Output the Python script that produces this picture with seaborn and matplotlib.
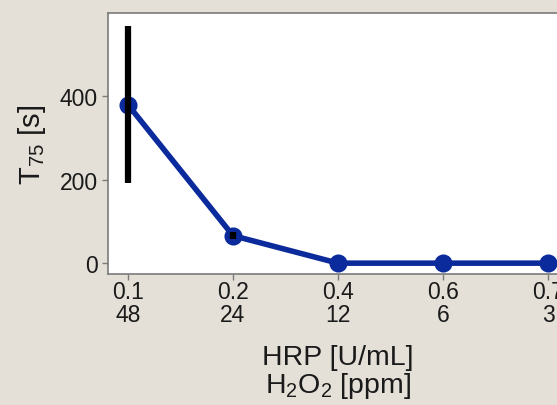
import matplotlib
matplotlib.use("Agg")
import matplotlib.pyplot as plt
import seaborn as sns
import pandas as pd

hrp = ["0.1", "0.2", "0.4", "0.6", "0.7"]
h2o2 = ["48", "24", "12", "6", "3"]
t75 = [380, 66, 0, 0, 0]
t75_err = [188, 9, 0, 0, 0]

sns.set_theme(style="white")
plt.rcParams['font.family'] = ['Liberation Sans', 'DejaVu Sans']
plt.rcParams['mathtext.fontset'] = 'custom'
plt.rcParams['mathtext.rm'] = 'Liberation Sans'
plt.rcParams['mathtext.it'] = 'Liberation Sans'

bg = "#e4e0d8"
W, H = 557, 406
fig = plt.figure(figsize=(W / 100, H / 100), dpi=100, facecolor=bg)
ax = fig.add_axes([108 / W, 1 - 275 / H, (568 - 108) / W, (275 - 14) / H])
ax.set_facecolor("white")

labels = [f"{a}\n{b}" for a, b in zip(hrp, h2o2)]
df = pd.DataFrame({"x": labels, "y": t75})
sns.pointplot(data=df, x="x", y="y", order=labels, color="#0b2a9c",
              errorbar=None, markersize=10, linewidth=4, ax=ax)
ax.errorbar(range(len(labels)), t75, yerr=t75_err, fmt="none",
            ecolor="black", elinewidth=4.5, capsize=0, zorder=5)

ax.set_xlim(-0.19, len(labels) - 1 + 0.19)
ax.set_ylim(-26, 600)
ax.set_yticks([0, 200, 400])
ax.tick_params(axis="both", labelsize=16.5, colors="#1a1a1a", length=4,
               width=1, direction="out", bottom=True, left=True)
ax.tick_params(axis="both", color="#7a7a7a")
for lab in ax.get_xticklabels():
    lab.set_linespacing(0.98)
ax.tick_params(axis="x", pad=0.5)
for s in ax.spines.values():
    s.set_color("#7a7a7a")
    s.set_linewidth(1.2)

ax.set_xlabel("HRP [U/mL]\nH$_2$O$_2$ [ppm]", fontsize=20.5, color="#1a1a1a",
              linespacing=1.0, labelpad=13)
ax.set_ylabel("T$_{75}$ [s]", fontsize=21, color="#1a1a1a", labelpad=8)

fig.savefig("out.png", dpi=100, facecolor=bg)
